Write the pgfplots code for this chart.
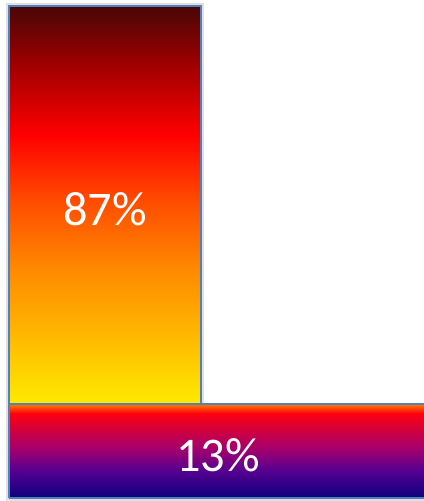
\documentclass[border=0pt]{standalone}
\usepackage{pgfplots}
\pgfplotsset{compat=1.18}
\usepackage{fontspec}
\setmainfont{Carlito}
\definecolor{bordercol}{HTML}{4F81BD}
\definecolor{t1}{HTML}{FFEA00}
\definecolor{t2}{HTML}{FFB400}
\definecolor{t3}{HTML}{FF8A00}
\definecolor{t4}{HTML}{FF4C00}
\definecolor{t5}{HTML}{FF0000}
\definecolor{t6}{HTML}{A00000}
\definecolor{t7}{HTML}{4A0606}
\definecolor{h1}{HTML}{0E0080}
\definecolor{h2}{HTML}{580090}
\definecolor{h3}{HTML}{A00070}
\definecolor{h4}{HTML}{D00040}
\definecolor{h5}{HTML}{FF0010}
\definecolor{h6}{HTML}{FF7000}
\pgfdeclareverticalshading{tallshade}{100bp}{color(0bp)=(t1); color(25bp)=(t1); color(34.3bp)=(t2); color(41.85bp)=(t3); color(50.5bp)=(t4); color(58.8bp)=(t5); color(67.5bp)=(t6); color(75bp)=(t7); color(100bp)=(t7)}
\pgfdeclareverticalshading{flatshade}{100bp}{color(0bp)=(h1); color(25bp)=(h1); color(40bp)=(h2); color(50.5bp)=(h3); color(61bp)=(h4); color(70bp)=(h5); color(74.5bp)=(h6); color(100bp)=(h6)}
\begin{document}
\begin{tikzpicture}
\begin{axis}[
  scale only axis, width=8.48cm, height=10.02cm,
  xmin=0, xmax=424, ymin=0, ymax=501, y dir=reverse,
  hide axis, clip=true]
\path[draw=none] (rel axis cs:0,0) rectangle (rel axis cs:1,1);
\addplot[mark=none, draw=black!12, line width=2.5pt]
  coordinates {(8,405) (8,5) (202,5) (202,405)};
\addplot[mark=none, draw=black!12, line width=2.5pt]
  coordinates {(8,403) (8,499) (430,499)};
\addplot[mark=none, draw=bordercol, line width=1.1pt, shading=flatshade]
  coordinates {(9,498) (9,404) (430,404) (430,498) (9,498)};
\addplot[mark=none, draw=bordercol, line width=1.1pt, shading=tallshade]
  coordinates {(9,404) (9,6) (201,6) (201,404) (9,404)};
\node[text=white, font=\fontsize{27.5}{32}\selectfont] at (axis cs:105,209) {87\%};
\node[text=white, font=\fontsize{27.5}{32}\selectfont] at (axis cs:218,455) {13\%};
\end{axis}
\end{tikzpicture}
\end{document}
